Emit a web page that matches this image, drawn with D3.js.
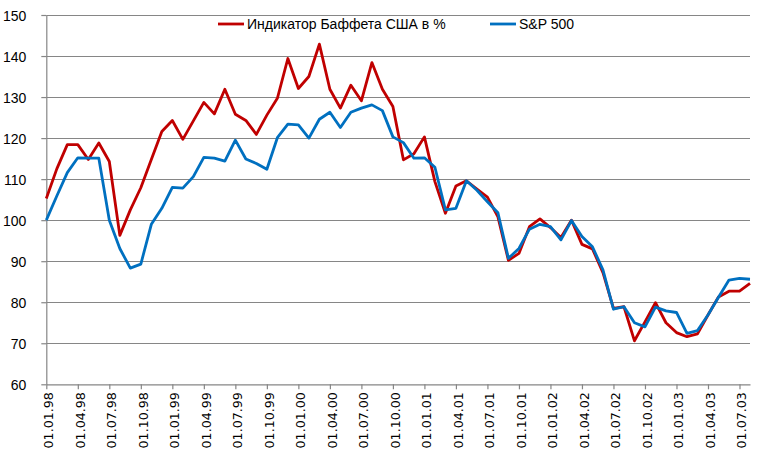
<!DOCTYPE html>
<html>
<head>
<meta charset="utf-8">
<script src="https://cdn.jsdelivr.net/npm/d3@7"></script>
<style>
  body { margin: 0; padding: 0; background: #fff; }
  svg { display: block; }
  .grid line { stroke: #868686; stroke-width: 1.2; }
  .axis path, .axis line { stroke: #868686; stroke-width: 1.2; }
  .yaxis text { font-family: "Liberation Sans", Arial, sans-serif; font-size: 14px; fill: #000; }
  .xaxis text { font-family: "DejaVu Sans", Verdana, sans-serif; font-size: 12.6px; fill: #000; }
  .legend text { font-family: "Liberation Sans", Arial, sans-serif; font-size: 14px; fill: #000; }
</style>
</head>
<body>
<div id="chart"></div>
<script>
// months from 01.01.98 to 01.08.03
var months = d3.timeMonth.range(new Date(1998, 0, 1), new Date(2003, 8, 1));
var fmt = d3.timeFormat("%d.%m.%y");
var categories = months.map(fmt);

var yTicks = [60, 70, 80, 90, 100, 110, 120, 130, 140, 150];

var seriesNames = ["Индикатор Баффета США в %", "S&P 500"];
var seriesColors = ["#C00000", "#0070C0"];

var buffett = [
  105.3, 112.5, 118.4, 118.4, 114.8, 118.8, 114.3, 96.3, 102.5, 107.9, 114.8, 121.6,
  124.3, 119.7, 124.2, 128.7, 125.9, 131.9, 125.8, 124.3, 120.9, 125.6, 129.7, 139.4,
  132.1, 135.0, 142.9, 131.9, 127.3, 132.9, 129.1, 138.4, 131.9, 127.7, 114.7, 116.2,
  120.3, 109.4, 101.7, 108.3, 109.6, 107.6, 105.6, 100.8, 90.2, 91.9, 98.4, 100.3,
  98.2, 95.8, 100.0, 94.1, 93.0, 87.2, 78.5, 78.9, 70.6, 75.2, 79.9, 75.0,
  72.6, 71.6, 72.3, 76.9, 81.3, 82.7, 82.7, 84.6
];
var sp500 = [
  100.0, 105.9, 111.6, 115.2, 115.1, 115.1, 100.0, 93.1, 88.3, 89.3, 99.0, 102.9,
  108.0, 107.8, 110.6, 115.3, 115.1, 114.4, 119.5, 114.9, 113.8, 112.4, 120.1, 123.4,
  123.2, 120.0, 124.6, 126.3, 122.6, 126.3, 127.3, 128.1, 126.7, 120.3, 118.9, 115.1,
  115.2, 112.9, 102.5, 102.9, 109.6, 107.3, 104.5, 101.8, 90.7, 93.1, 97.8, 99.0,
  98.4, 95.2, 99.9, 96.0, 93.5, 87.9, 78.3, 78.9, 75.0, 74.0, 78.8, 77.9,
  77.5, 72.4, 73.1, 76.9, 81.2, 85.4, 85.8, 85.6
];

var W = 759, H = 463;
var plotLeft = 46.3, plotRight = 750, plotTop = 15, plotBottom = 384.3;

var svg = d3.select("#chart").append("svg")
  .attr("width", W).attr("height", H);

var x = d3.scalePoint().domain(categories).range([plotLeft, plotRight]);
var y = d3.scaleLinear().domain([60, 150]).range([plotBottom, plotTop]);

// horizontal gridlines
svg.append("g").attr("class", "grid")
  .selectAll("line").data(yTicks.slice(1)).enter().append("line")
  .attr("x1", plotLeft).attr("x2", plotRight)
  .attr("y1", function(d) { return Math.round(y(d)) + 0.5; })
  .attr("y2", function(d) { return Math.round(y(d)) + 0.5; });

// y axis
var yAxis = svg.append("g").attr("class", "axis yaxis")
  .attr("transform", "translate(" + plotLeft + ",0)")
  .call(d3.axisLeft(y).tickValues(yTicks).tickSize(5).tickSizeOuter(0).tickPadding(15));
yAxis.selectAll("text").attr("dy", "0.36em");

// x axis
var xAxis = svg.append("g").attr("class", "axis xaxis")
  .attr("transform", "translate(0," + plotBottom + ")")
  .call(d3.axisBottom(x)
    .tickValues(categories.filter(function(d, i) { return i % 3 === 0; }))
    .tickSize(5).tickSizeOuter(0));
xAxis.selectAll("text")
  .attr("text-anchor", "end")
  .attr("x", -8).attr("y", 0).attr("dy", "0.38em")
  .attr("transform", "rotate(-90) translate(0,1.5)");

// series lines
var line = d3.line()
  .x(function(d, i) { return x(categories[i]); })
  .y(function(d) { return y(d); });

[buffett, sp500].forEach(function(s, k) {
  svg.append("path").datum(s)
    .attr("fill", "none")
    .attr("stroke", seriesColors[k])
    .attr("stroke-width", 2.8)
    .attr("stroke-linejoin", "round")
    .attr("d", line);
});

// legend
var legendX = [218, 490];
var lg = svg.append("g").attr("class", "legend");
seriesNames.forEach(function(name, k) {
  lg.append("line")
    .attr("x1", legendX[k]).attr("x2", legendX[k] + 26)
    .attr("y1", 24).attr("y2", 24)
    .attr("stroke", seriesColors[k]).attr("stroke-width", 2.8);
  lg.append("text")
    .attr("x", legendX[k] + 29).attr("y", 29)
    .text(name);
});
</script>
</body>
</html>
